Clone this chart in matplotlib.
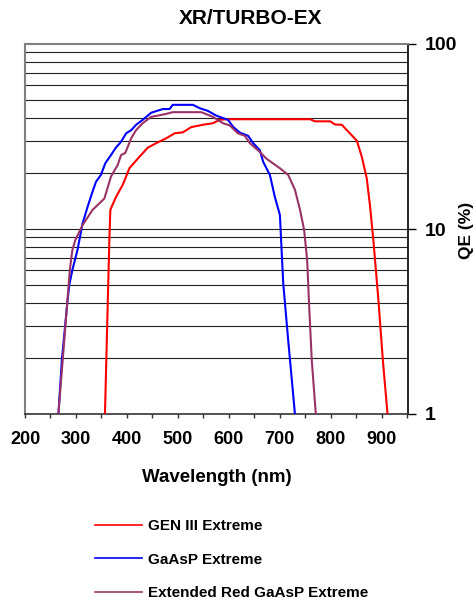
import matplotlib
matplotlib.use("Agg")
import matplotlib.pyplot as plt
from matplotlib.ticker import FixedLocator, NullFormatter, NullLocator

# ---- data ----
gen3_nm = [357, 365.6, 367.6, 378.6, 391.8, 405, 421.4, 441, 457.5, 477, 493.7, 510,
           526, 549, 569, 582, 595, 760, 769, 799, 809, 822, 851.6, 861.4, 871, 877.6,
           884, 894, 902.6, 911.8]
gen3_qe = [1.0, 8.7, 12.7, 14.9, 17.3, 21.3, 24.0, 27.5, 29.1, 30.9, 32.9, 33.3,
           35.5, 36.6, 37.3, 38.9, 39.2, 39.2, 38.2, 38.2, 36.7, 36.6, 30.0, 24.5, 18.8, 13.2,
           8.7, 4.1, 1.96, 1.0]

gaasp_nm = [265.6, 272.4, 283.5, 287, 293, 303, 313, 323, 331.5, 339.4, 349, 357.8,
            368.8, 378.7, 388.6, 398.5, 408.4, 418.2, 431, 447.7, 470.6, 483.8, 490,
            529.7, 542.9, 559, 575.7, 598.6, 608.5, 621.7, 638, 648, 661, 667.6, 680.8,
            690.6, 700.5, 703.8, 707, 716.8, 730]
gaasp_qe = [1.0, 1.96, 4.1, 5.0, 6.0, 7.7, 10.7, 13.2, 15.6, 18.0, 19.6, 22.7,
            25.1, 27.6, 29.6, 32.9, 34.2, 36.6, 38.9, 42.5, 44.5, 44.5, 46.9,
            46.9, 45.0, 43.5, 41.0, 38.9, 35.7, 33.2, 31.9, 29.1, 26.7, 23.1, 19.6,
            14.9, 11.9, 7.7, 5.1, 2.5, 1.0]

extred_nm = [265.6, 288, 293, 298.7, 313, 332.8, 355.8, 368.8, 382, 388.6, 397, 408.4,
             418, 431, 447.6, 460.7, 477.3, 490, 546, 569, 588.8, 602, 618, 631.6, 641.5,
             661, 674, 700.5, 716.8, 730, 740, 748, 752, 754, 758, 763, 771]
extred_qe = [1.0, 6.0, 7.7, 8.7, 10.5, 12.7, 14.6, 19.2, 22.2, 25.1, 25.8, 30.9,
             34.2, 37.3, 40.4, 41.0, 41.9, 42.8, 42.8, 40.4, 37.3, 36.3, 32.9, 31.9, 29.1,
             26.1, 24.0, 21.3, 19.6, 16.3, 12.7, 9.9, 7.7, 6.8, 3.8, 1.96, 1.0]

series_labels = ["GEN III Extreme", "GaAsP Extreme", "Extended Red GaAsP Extreme"]
series_colors = ["#FF0000", "#0000FF", "#993366"]
x_major = [200, 300, 400, 500, 600, 700, 800, 900]
x_minor = [250, 350, 450, 550, 650, 750, 850, 950]
y_major = [1, 10, 100]
y_grid = [2, 3, 4, 5, 6, 7, 8, 9, 10, 20, 30, 40, 50, 60, 70, 80, 90]

FONT = ["Liberation Sans", "DejaVu Sans"]
plt.rcParams["font.family"] = FONT

fig = plt.figure(figsize=(4.76, 6.03), dpi=100)
ax = fig.add_axes([25 / 476, 1 - 414 / 603, (408 - 25) / 476, (414 - 44) / 603])

ax.set_yscale("log")
ax.set_xlim(200, 952)
ax.set_ylim(1, 100)

for yv in y_grid:
    ax.axhline(yv, color="#222222", lw=0.8, zorder=1)

handles = []
for xs, ys, c, lab in zip([gen3_nm, gaasp_nm, extred_nm], [gen3_qe, gaasp_qe, extred_qe],
                          series_colors, series_labels):
    h, = ax.plot(xs, ys, color=c, lw=1.5, label=lab, zorder=3, clip_on=True)
    handles.append(h)

# spines
ax.spines["left"].set_color("#808080")
ax.spines["left"].set_linewidth(1.5)
ax.spines["top"].set_color("#808080")
ax.spines["top"].set_linewidth(1.5)
ax.spines["bottom"].set_color("#333333")
ax.spines["bottom"].set_linewidth(1.2)
ax.spines["right"].set_color("#000000")
ax.spines["right"].set_linewidth(1.2)

# x ticks
ax.xaxis.set_major_locator(FixedLocator(x_major))
ax.xaxis.set_minor_locator(FixedLocator(x_minor))
ax.tick_params(axis="x", which="both", direction="out", length=3, width=1, color="#333333",
               pad=9, labelsize=13)
ax.set_xticklabels([str(v) for v in x_major], fontweight="bold")

# y ticks on right
ax.yaxis.tick_right()
ax.yaxis.set_major_locator(FixedLocator(y_major))
ax.yaxis.set_minor_locator(NullLocator())
ax.yaxis.set_minor_formatter(NullFormatter())
ax.set_yticklabels([str(v) for v in y_major], fontweight="bold")
ax.tick_params(axis="y", which="major", direction="out", length=6, width=1, color="black",
               pad=6, labelsize=14)

fig.text(467 / 476, 1 - 230 / 603, "QE (%)", rotation=90, ha="center", va="center",
         fontsize=12.5, fontweight="bold")
fig.text(217 / 476, 1 - 478 / 603, "Wavelength (nm)", ha="center", va="center",
         fontsize=13.5, fontweight="bold")
fig.text(251 / 476, 1 - 18 / 603, "XR/TURBO-EX", ha="center", va="center",
         fontsize=15, fontweight="bold")

leg = fig.legend(handles=handles, labels=series_labels, loc="upper left",
                 bbox_to_anchor=(95 / 476, 1 - 519 / 603), frameon=False,
                 borderpad=0, borderaxespad=0, handlelength=3.1, handletextpad=0.35,
                 labelspacing=1.28, prop={"family": FONT, "weight": "bold", "size": 11})
for line in leg.get_lines():
    line.set_linewidth(1.2)

fig.savefig("out.png", dpi=100)
